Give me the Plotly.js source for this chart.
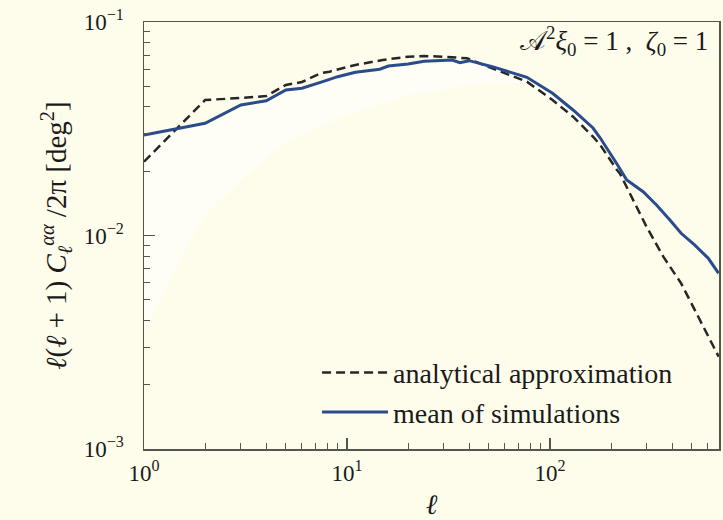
<!DOCTYPE html>
<html>
<head>
<meta charset="utf-8">
<script src="https://cdn.plot.ly/plotly-3.0.1.min.js"></script>
<style>html,body{margin:0;padding:0;background:#fefdec;}</style>
</head>
<body>
<div id="chart" style="width:723px;height:520px;"></div>
<script>
// analytical approximation (dashed)
const anaEll = [1, 2, 3, 4, 5, 6, 7.4, 8.2, 11, 15, 20, 24, 30, 39, 52, 77, 103, 130, 163, 177, 214, 221, 299, 362, 443, 528, 592, 678];
const anaVal = [0.02216, 0.04312, 0.04406, 0.04502, 0.05070, 0.05236, 0.05751, 0.05852, 0.06290, 0.06638, 0.06878, 0.06930, 0.06878, 0.06761, 0.06071, 0.05254, 0.04312, 0.03600, 0.02902, 0.02654, 0.02026, 0.01955, 0.01100, 0.00796, 0.00597, 0.00432, 0.00348, 0.00271];
// mean of simulations (solid)
const simEll = [1, 2, 3, 4, 5, 6, 7.6, 9, 11, 14.5, 16, 20, 24, 30, 33, 36, 40, 52, 77, 103, 130, 163, 177, 214, 229, 239, 288, 335, 390, 443, 516, 603, 678];
const simVal = [0.02956, 0.03354, 0.04085, 0.04279, 0.04802, 0.04892, 0.05254, 0.05545, 0.05814, 0.06006, 0.06223, 0.06358, 0.06546, 0.06588, 0.06638, 0.06448, 0.06590, 0.06176, 0.05508, 0.04634, 0.03871, 0.03188, 0.02862, 0.02162, 0.01962, 0.01820, 0.01604, 0.01389, 0.01182, 0.01024, 0.00903, 0.00782, 0.00665];
// faint spread band of the simulations (below the mean)
const bandEll = [1, 1.45, 2, 3.2, 5.2, 10, 20.4, 40.3, 80, 150, 300, 678];
const bandLow = [0.00361, 0.00727, 0.01247, 0.0192, 0.0280, 0.0367, 0.0455, 0.0507, 0.0520, 0.0330, 0.0153, 0.0063];
const bandHigh = [0.0290, 0.0305, 0.0330, 0.0405, 0.0475, 0.0555, 0.0625, 0.0645, 0.0540, 0.0340, 0.0155, 0.0064];

const xTickVals = [1, 10, 100];
const xTickText = ['10<sup>0</sup>', '10<sup>1</sup>', '10<sup>2</sup>'];
const yTickVals = [0.001, 0.01, 0.1];
const yTickText = ['10<sup>−3</sup>', '10<sup>−2</sup>', '10<sup>−1</sup>'];

const serif = 'Liberation Serif';
const frame = '#555550';
const ink = '#1a1a1a';

const traces = [
  {x: bandEll, y: bandLow, mode: 'lines', line: {width: 0, color: 'rgba(0,0,0,0)'}, showlegend: false, hoverinfo: 'skip'},
  {x: bandEll, y: bandHigh, mode: 'lines', line: {width: 0, color: 'rgba(0,0,0,0)'}, fill: 'tonexty', fillcolor: 'rgba(255,255,255,0.5)', showlegend: false, hoverinfo: 'skip'},
  {x: anaEll, y: anaVal, mode: 'lines', name: 'analytical approximation', line: {color: '#262626', width: 2.5, dash: '9px,5px'}},
  {x: simEll, y: simVal, mode: 'lines', name: 'mean of simulations', line: {color: '#2a4b8c', width: 3}}
];

const layout = {
  width: 723, height: 520,
  paper_bgcolor: '#fefdec', plot_bgcolor: '#fefdec',
  margin: {l: 144, r: 4, t: 22, b: 71},
  font: {family: serif, color: ink, size: 22},
  showlegend: true,
  legend: {x: 0.301, y: 0.237, xanchor: 'left', yanchor: 'top', traceorder: 'normal', itemwidth: 66,
           bgcolor: 'rgba(0,0,0,0)', font: {family: serif, size: 28, color: ink}},
  xaxis: {
    type: 'log', range: [0, 2.833], showgrid: false, zeroline: false,
    showline: true, linecolor: frame, linewidth: 1.5, mirror: true,
    ticks: 'inside', ticklen: 11, tickcolor: frame, tickwidth: 1.3,
    tickmode: 'array', tickvals: xTickVals, ticktext: xTickText,
    ticklabelstandoff: 3,
    tickfont: {family: serif, size: 23, color: ink},
    minor: {ticks: 'inside', ticklen: 6, tickcolor: frame, tickwidth: 1, dtick: 'D1', showgrid: false},
    title: {text: '<i>ℓ</i>', font: {family: serif, size: 28, color: ink}, standoff: 10}
  },
  yaxis: {
    type: 'log', range: [-3, -1], showgrid: false, zeroline: false,
    showline: true, linecolor: frame, linewidth: 1.5, mirror: true,
    ticks: 'inside', ticklen: 11, tickcolor: frame, tickwidth: 1.3,
    tickmode: 'array', tickvals: yTickVals, ticktext: yTickText,
    ticklabelstandoff: 14,
    tickfont: {family: serif, size: 23, color: ink},
    minor: {ticks: 'inside', ticklen: 6, tickcolor: frame, tickwidth: 1, dtick: 'D1', showgrid: false},
    title: {text: '<i>ℓ</i>(<i>ℓ</i> + 1) <i>C</i><sub><i>ℓ</i></sub><sup><i>αα</i></sup> /2π [deg<sup>2</sup>]', font: {family: serif, size: 29, color: ink}, standoff: 8}
  },
  annotations: [
    {xref: 'paper', yref: 'paper', x: 0.985, y: 0.955, xanchor: 'right', yanchor: 'middle', showarrow: false,
     text: '𝒜<sup>2</sup><i>ξ</i><sub>0</sub> = 1 ,  <i>ζ</i><sub>0</sub> = 1', font: {family: serif, size: 27, color: ink}}
  ]
};

Plotly.newPlot('chart', traces, layout, {displayModeBar: false, staticPlot: true});
</script>
</body>
</html>
